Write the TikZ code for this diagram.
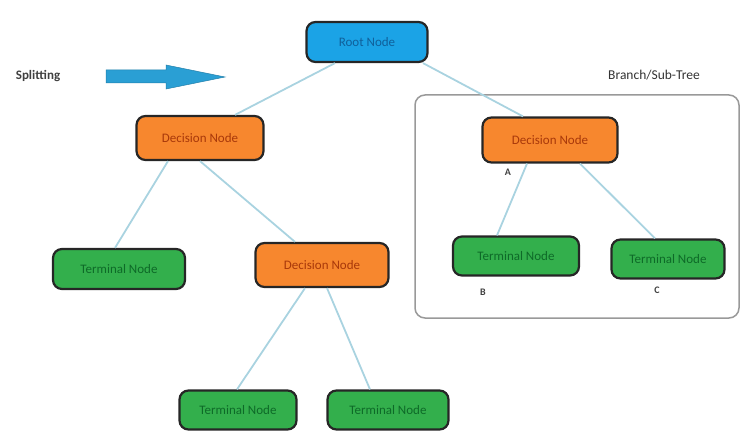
\documentclass[tikz,border=0pt]{standalone}
\usepackage{fontspec}
\setmainfont{Carlito}
\begin{document}
\begin{tikzpicture}[x=1pt,y=-1pt,
  box/.style={draw=black!85,line width=2.2pt,rounded corners=9pt,inner sep=0pt,font=\fontsize{13}{15}\selectfont},
  rootbox/.style={box,fill=rootblue,text=rootink},
  decbox/.style={box,fill=decorange,text=decink},
  termbox/.style={box,fill=termgreen,text=termink},
  link/.style={draw=linkblue,line width=1.8pt},
  tag/.style={font=\fontsize{13}{15}\selectfont\bfseries,text=black!75},
  letter/.style={font=\fontsize{10}{12}\selectfont\bfseries,text=black!75}]
\definecolor{rootblue}{HTML}{1BA3E6}
\definecolor{rootink}{HTML}{10609A}
\definecolor{decorange}{HTML}{F7872E}
\definecolor{decink}{HTML}{A8380A}
\definecolor{termgreen}{HTML}{33AF4C}
\definecolor{termink}{HTML}{0E6A28}
\definecolor{linkblue}{HTML}{A9D3E0}
\definecolor{arrowblue}{HTML}{2A9FD4}
\useasboundingbox (0,0) rectangle (740,433);

% sub-tree frame
\draw[black!40,line width=1.5pt,rounded corners=10pt] (415,95) rectangle (739,318);
\node[font=\fontsize{13.5}{15}\selectfont,text=black!80] (subtitle) at (654,75) {Branch/Sub-Tree};

% splitting label and arrow
\node[tag] (split) at (38,76) {Splitting};
\fill[arrowblue,draw=arrowblue!80!black,line width=0.5pt]
  (106,70) -- (166,70) -- (166,65) -- (225,77) -- (166,89) -- (166,83) -- (106,83) -- cycle;

% nodes
\node[rootbox,minimum width=121pt,minimum height=40pt] (root) at (367,42) {Root Node};
\node[decbox,minimum width=127pt,minimum height=44pt] (decL) at (200,138) {Decision Node};
\node[decbox,minimum width=135pt,minimum height=45pt] (decR) at (550,140) {Decision Node};
\node[decbox,minimum width=133pt,minimum height=44pt] (decM) at (322,265) {Decision Node};
\node[termbox,minimum width=132pt,minimum height=40pt] (termL) at (119,269) {Terminal Node};
\node[termbox,minimum width=117pt,minimum height=39pt] (termBL) at (238,410) {Terminal Node};
\node[termbox,minimum width=121pt,minimum height=39pt] (termBR) at (388,410) {Terminal Node};
\node[termbox,minimum width=126pt,minimum height=39pt] (termB) at (516,256) {Terminal Node};
\node[termbox,minimum width=113pt,minimum height=39pt] (termC) at (668,259) {Terminal Node};

% letter tags
\node[letter] (lblA) at (508,172) {A};
\node[letter] (lblB) at (483,292) {B};
\node[letter] (lblC) at (657,290) {C};

% connectors
\draw[link] ([xshift=-32pt]root.south) -- ([xshift=35pt]decL.north);
\draw[link] ([xshift=56pt]root.south) -- ([xshift=-27pt]decR.north);
\draw[link] ([xshift=-32pt]decL.south) -- ([xshift=-4pt]termL.north);
\draw[link] (decL.south) -- ([xshift=-27pt]decM.north);
\draw[link] ([xshift=-17pt]decM.south) -- ([xshift=-1pt]termBL.north);
\draw[link] ([xshift=5pt]decM.south) -- ([xshift=-18pt]termBR.north);
\draw[link] ([xshift=-23pt]decR.south) -- ([xshift=-19pt]termB.north);
\draw[link] ([xshift=30pt]decR.south) -- ([xshift=-13pt]termC.north);
\end{tikzpicture}
\end{document}
